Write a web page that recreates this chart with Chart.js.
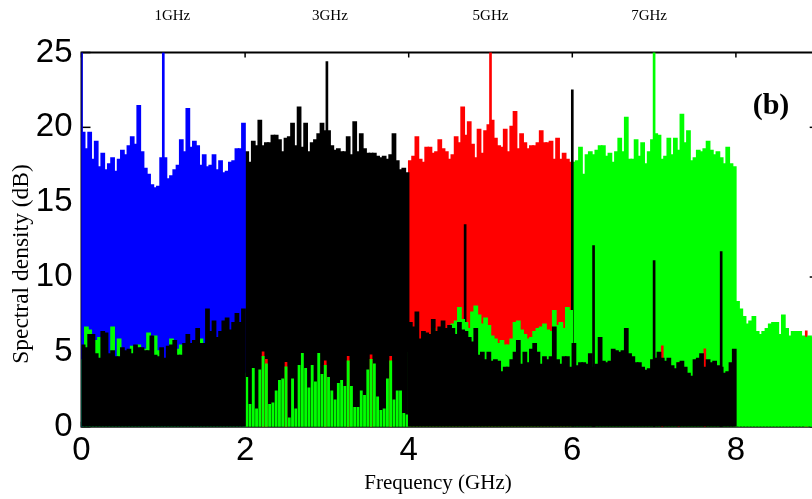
<!DOCTYPE html>
<html>
<head>
<meta charset="utf-8">
<script src="https://cdn.jsdelivr.net/npm/chart.js@4.4.1/dist/chart.umd.min.js"></script>
<style>
  html, body { margin: 0; padding: 0; background: #fff; overflow: hidden; }
  #wrap { width: 812px; height: 499px; overflow: hidden; position: relative; }
  #c { display: block; width: 830px; height: 499px; }
</style>
</head>
<body>
<div id="wrap"><canvas id="c" width="830" height="499"></canvas></div>
<script>
// ---- tick labels ----
const xTickValues = [0, 2, 4, 6, 8];
const yTickValues = [0, 5, 10, 15, 20, 25];
const topLabels = ['1GHz', '3GHz', '5GHz', '7GHz'];
const topLabelFreqs = [1, 3, 5, 7];

// ---- main signal bands (dB), samples every 0.04 GHz starting at band start + 0.02 ----
const blueBand = [19.7,18.6,19.7,17.9,19.1,17.4,18.3,17.2,17.6,18.0, 17.1,17.9,18.5,18.2,18.8,19.4,18.9,21.5,18.4,17.3, 16.9,16.2,16.0,16.1,18.0,18.0,16.6,16.8,17.2,17.5, 19.2,18.4,21.3,18.7,19.1,18.8,17.5,18.2,17.4,17.5, 18.2,17.2,17.8,17.0,17.1,17.7,17.8,18.6,18.6,20.3];
const blackBand = [18.4,17.7,19.1,18.8,20.5,18.8,19.0,19.0,19.5,19.5, 19.2,18.4,19.3,19.4,20.3,18.8,21.4,18.7,20.3,18.4, 19.0,19.2,19.6,20.3,19.8,19.8,18.8,18.5,18.6,18.4, 18.4,19.4,18.2,20.4,18.4,19.6,18.6,18.3,18.3,18.3, 18.1,18.0,18.1,17.9,18.2,19.6,17.8,17.2,17.3,17.0];
const redBand = [17.8,18.1,19.4,17.9,17.7,18.7,18.7,18.3,18.4,19.2, 18.6,18.4,17.9,18.2,19.4,19.0,21.4,19.5,20.4,18.9, 18.0,19.9,18.3,19.8,20.2,20.5,19.3,18.8,18.7,19.9, 18.4,20.1,21.1,18.6,19.6,19.0,18.6,18.8,18.8,19.0, 19.8,19.0,19.0,19.1,17.9,19.3,17.9,18.3,17.9,17.7];
const greenBand = [17.7,17.8,18.7,16.9,18.2,18.4,18.2,18.5,18.8,18.8, 18.1,18.3,17.7,18.4,19.3,18.4,20.7,17.9,17.9,19.2, 18.1,19.0,17.6,18.4,19.2,19.6,19.5,17.9,18.1,19.3, 18.2,19.3,18.5,20.9,19.0,19.8,17.8,18.0,18.5,18.4, 18.6,19.1,18.5,18.2,18.4,18.0,17.6,18.7,17.6,17.4];

// ---- noise floors (dB) ----
const blackNoise0to2 = [5.5,5.3,6.2,6.2,4.9,4.6,6.4,6.3,4.9,5.1, 4.7,4.7,5.3,5.1,5.2,4.9,5.5,5.3,5.3,5.1, 5.1,6.1,4.8,4.7,5.3,4.6,5.4,5.5,5.8,4.8, 4.8,5.6,6.2,5.6,5.8,6.6,5.6,5.6,7.9,6.4, 7.1,6.0,6.4,7.1,7.3,6.5,7.0,7.6,7.0,7.9];
const blackNoise4to6 = [7.0,6.7,7.7,5.9,6.4,6.3,6.2,7.2,6.4,6.7, 7.1,6.6,6.8,6.6,6.2,7.0,6.5,6.4,6.0,5.7, 6.6,4.8,5.0,4.5,5.0,4.4,4.5,4.4,3.7,4.0, 4.0,4.5,5.0,5.8,4.2,5.0,4.3,5.2,5.6,5.0, 4.2,4.7,4.5,4.7,6.7,4.5,4.2,4.7,4.7,4.0];
const blackNoise6to8 = [5.6,4.1,4.3,4.3,4.2,4.9,4.0,4.2,6.0,4.4, 4.3,4.4,5.2,5.1,5.0,5.1,6.6,4.9,4.7,4.3, 4.3,4.0,3.8,3.9,4.5,4.6,5.0,4.6,4.4,4.6, 4.1,3.9,4.3,4.4,4.0,3.6,3.4,4.5,4.6,4.9, 4.0,4.5,4.3,4.4,4.1,4.0,3.6,3.7,4.3,5.2];
const greenNoise0to2 = [4.5,6.7,6.5,4.8,5.8,6.0,4.5,4.4,4.0,6.7, 4.2,5.9,4.5,4.2,4.9,5.4,4.2,5.5,4.9,5.2, 6.3,4.8,6.1,5.1,4.4,4.0,4.5,5.9,4.2,5.2, 5.5,4.2,4.0,4.4,4.0,4.2,5.9,4.0,4.3,3.8, 4.1,3.6,4.0,3.9,4.2,3.7,4.0,3.5,3.8,3.6];
const greenNoise2to4 = [3.3,1.5,3.9,1.2,3.8,4.7,4.2,1.5,1.6,2.4, 3.1,3.2,4.0,0.6,3.2,1.2,4.1,4.9,3.9,2.6, 4.1,3.0,4.9,3.5,4.1,3.3,2.4,1.8,2.9,3.1, 2.7,4.4,2.7,1.3,1.3,2.4,2.1,3.8,4.5,4.2, 2.0,1.1,1.2,3.2,4.4,1.8,2.4,2.4,0.9,0.8];
const greenNoise4to6 = [5.0,5.5,5.8,5.2,5.4,5.0,5.8,6.6,5.9,6.1, 6.2,6.5,6.0,6.9,7.1,8.0,7.2,7.0,6.6,7.7, 8.1,7.5,6.9,7.3,6.8,6.1,5.9,5.6,5.8,5.5, 5.5,5.9,7.0,7.1,6.5,6.2,5.9,6.0,6.4,6.6, 6.7,6.9,6.5,6.4,7.8,6.8,7.0,6.6,8.0,7.8];
const greenNoise8to9 = [8.4,7.9,7.4,6.9,7.1,7.4,6.4,6.2,6.4,6.6, 6.9,7.0,7.0,6.2,7.5,6.6,6.1,6.4,6.4,6.4, 6.1,6.0,6.1,6.0];

// ---- small red residues ----
const redTipFreqs = [2.22, 2.26, 2.50, 2.98, 3.26, 3.54, 3.78, 7.10, 7.30, 7.62, 8.86];
const redTipValues = [5.0, 4.5, 4.3, 4.4, 4.7, 4.8, 4.7, 5.4, 4.3, 5.2, 6.4];

// ---- spectral lines (tones) ----
const colorSpikeFreqs = [0, 1, 5, 7];
const colorSpikeValues = [25, 25, 26, 26];
const colorSpikeColors = ['#0000ff', '#0000ff', '#ff0000', '#00ff00'];
const blackSpikeFreqs = [3.0, 4.69, 6.0, 6.26, 7.0, 7.82];
const blackSpikeValues = [24.4, 13.5, 22.5, 12.1, 11.1, 11.7];

// ---- helpers ----
function band(start, values) {
  return values.map((v, i) => ({ x: Math.round((start + 0.02 + 0.04 * i) * 100) / 100, y: v }));
}
function pts(freqs, values) {
  return freqs.map((f, i) => ({ x: f, y: values[i] }));
}
const wide = { grouped: false, barPercentage: 1.45, categoryPercentage: 1, borderWidth: 0 };

const datasets = [
  Object.assign({ label: 'blue', data: band(0, blueBand), backgroundColor: '#0000ff', order: 6 }, wide),
  Object.assign({ label: 'black', data: band(2, blackBand), backgroundColor: '#000000', order: 6 }, wide),
  Object.assign({ label: 'red', data: band(4, redBand), backgroundColor: '#ff0000', order: 6 }, wide),
  Object.assign({ label: 'green', data: band(6, greenBand), backgroundColor: '#00ff00', order: 6 }, wide),
  { label: 'tones', data: pts(colorSpikeFreqs, colorSpikeValues), backgroundColor: colorSpikeColors,
    xAxisID: 'xs', barThickness: 2, grouped: false, borderWidth: 0, order: 5 },
  { label: 'black tones', data: pts(blackSpikeFreqs, blackSpikeValues), backgroundColor: '#000000',
    xAxisID: 'xs', barThickness: 2, grouped: false, borderWidth: 0, order: 4 },
  { label: 'red residue', data: pts(redTipFreqs, redTipValues), backgroundColor: '#ff0000',
    xAxisID: 'xs', barThickness: 2, grouped: false, borderWidth: 0, order: 3 },
  Object.assign({ label: 'green noise a', data: band(0, greenNoise0to2), backgroundColor: '#00ff00', order: 2 }, wide),
  { label: 'green noise b', data: band(2, greenNoise2to4), backgroundColor: '#00ff00',
    xAxisID: 'xs', barThickness: 2.2, grouped: false, borderWidth: 0, order: 2 },
  Object.assign({ label: 'green noise c', data: band(4, greenNoise4to6), backgroundColor: '#00ff00', order: 2 }, wide),
  Object.assign({ label: 'green noise d', data: band(8, greenNoise8to9), backgroundColor: '#00ff00', order: 2 }, wide),
  Object.assign({ label: 'black noise', data: band(0, blackNoise0to2).concat(band(4, blackNoise4to6), band(6, blackNoise6to8)),
    backgroundColor: '#000000', order: 1 }, wide)
];

function line(ctx, x1, y1, x2, y2) { ctx.beginPath(); ctx.moveTo(x1, y1); ctx.lineTo(x2, y2); ctx.stroke(); }

const framePlugin = {
  id: 'frame',
  beforeDatasetsDraw(chart) {
    const { ctx, chartArea: a, scales: { x, y } } = chart;
    ctx.save();
    ctx.strokeStyle = '#000';
    ctx.lineWidth = 2;
    ctx.strokeRect(a.left, a.top, a.right - a.left, a.bottom - a.top);
    ctx.lineWidth = 1.5;
    xTickValues.forEach(v => {
      const px = x.getPixelForValue(v);
      line(ctx, px, a.top, px, a.top + 5);
      line(ctx, px, a.bottom, px, a.bottom - 5);
    });
    yTickValues.forEach(v => {
      const py = y.getPixelForValue(v);
      line(ctx, a.left, py, a.left + 9, py);
      if (v % 10 === 0) line(ctx, a.right, py, a.right - 8, py);
    });
    ctx.restore();
  },
  afterDraw(chart) {
    const { ctx, scales: { x } } = chart;
    ctx.save();
    ctx.fillStyle = '#000';
    ctx.textAlign = 'center';
    ctx.textBaseline = 'middle';
    ctx.font = '15px "Liberation Serif", "Times New Roman", serif';
    const offs = [9, 3, 0, -5];
    topLabels.forEach((t, i) => ctx.fillText(t, x.getPixelForValue(topLabelFreqs[i]) + offs[i], 16));
    ctx.font = 'bold 30px "Liberation Serif", "Times New Roman", serif';
    ctx.fillText('(b)', 771, 106);
    ctx.font = '21px "Liberation Serif", "Times New Roman", serif';
    ctx.fillText('Frequency (GHz)', 438, 483);
    ctx.font = '23.5px "Liberation Serif", "Times New Roman", serif';
    ctx.translate(22, 264);
    ctx.rotate(-Math.PI / 2);
    ctx.fillText('Spectral density (dB)', 0, 0);
    ctx.restore();
  }
};

new Chart(document.getElementById('c'), {
  type: 'bar',
  data: { datasets },
  options: {
    responsive: false,
    animation: false,
    devicePixelRatio: 1,
    layout: { padding: { left: 0, top: 52.5, right: 12.3, bottom: 0 } },
    plugins: { legend: { display: false }, tooltip: { enabled: false } },
    scales: {
      x: {
        type: 'linear', min: 0, max: 9, offset: false,
        grid: { display: false, drawTicks: false }, border: { display: false },
        afterBuildTicks: s => { s.ticks = xTickValues.map(v => ({ value: v })); },
        afterFit: s => { s.height = 72.3; },
        ticks: { color: '#000', padding: 4, maxRotation: 0, autoSkip: false,
          font: { family: '"Liberation Sans", Arial, sans-serif', size: 33 } }
      },
      xs: {
        type: 'linear', min: 0, max: 9, offset: false, display: false
      },
      y: {
        min: 0, max: 25,
        grid: { display: false, drawTicks: false }, border: { display: false },
        afterBuildTicks: s => { s.ticks = yTickValues.map(v => ({ value: v })); },
        afterFit: s => { s.width = 81.5; },
        ticks: { color: '#000', padding: 9,
          font: { family: '"Liberation Sans", Arial, sans-serif', size: 33 } }
      }
    }
  },
  plugins: [framePlugin]
});
</script>
</body>
</html>
